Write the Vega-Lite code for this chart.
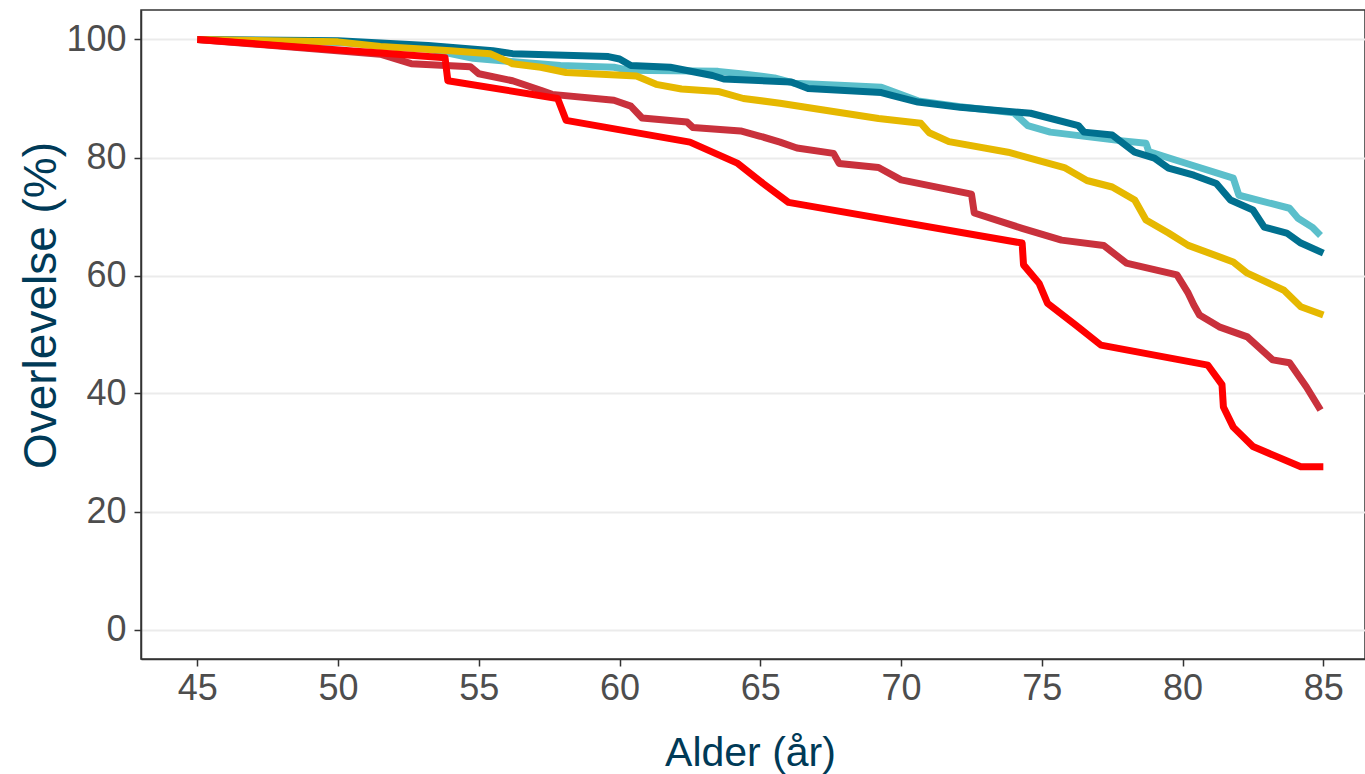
{
  "$schema": "https://vega.github.io/schema/vega-lite/v6.json",
  "width": 1224,
  "height": 649,
  "autosize": {"type": "none"},
  "padding": {"left": 141, "top": 10, "right": 0, "bottom": 115},
  "background": "white",
  "config": {
    "view": {"stroke": "#333333", "strokeWidth": 1.5},
    "font": "Liberation Sans"
  },
  "data": {"values": [
    {"s": "1", "age": 45, "v": 100}, {"s": "1", "age": 50, "v": 99.5}, {"s": "1", "age": 53, "v": 98.6}, {"s": "1", "age": 54.8, "v": 96.8}, {"s": "1", "age": 57.9, "v": 95.6}, {"s": "1", "age": 59.8, "v": 95.3}, {"s": "1", "age": 60.3, "v": 94.8}, {"s": "1", "age": 63.5, "v": 94.6}, {"s": "1", "age": 64.3, "v": 94.2}, {"s": "1", "age": 65.5, "v": 93.5}, {"s": "1", "age": 66.2, "v": 92.6}, {"s": "1", "age": 68, "v": 92.2}, {"s": "1", "age": 69.3, "v": 91.9}, {"s": "1", "age": 70.6, "v": 89.6}, {"s": "1", "age": 72.1, "v": 88.6}, {"s": "1", "age": 74, "v": 87.6}, {"s": "1", "age": 74.5, "v": 85.4}, {"s": "1", "age": 75.3, "v": 84.3}, {"s": "1", "age": 77.7, "v": 82.9}, {"s": "1", "age": 78.7, "v": 82.4}, {"s": "1", "age": 78.8, "v": 81}, {"s": "1", "age": 80, "v": 79.2}, {"s": "1", "age": 81.8, "v": 76.5}, {"s": "1", "age": 82, "v": 73.6}, {"s": "1", "age": 83.8, "v": 71.4}, {"s": "1", "age": 84.1, "v": 69.7}, {"s": "1", "age": 84.6, "v": 68.2}, {"s": "1", "age": 84.9, "v": 66.8},
    {"s": "2", "age": 45, "v": 100}, {"s": "2", "age": 50, "v": 99.8}, {"s": "2", "age": 53.2, "v": 99}, {"s": "2", "age": 55.5, "v": 98.1}, {"s": "2", "age": 56.2, "v": 97.6}, {"s": "2", "age": 59.6, "v": 97.1}, {"s": "2", "age": 60, "v": 96.7}, {"s": "2", "age": 60.4, "v": 95.6}, {"s": "2", "age": 61.8, "v": 95.3}, {"s": "2", "age": 63.3, "v": 93.9}, {"s": "2", "age": 63.7, "v": 93.3}, {"s": "2", "age": 66.1, "v": 92.8}, {"s": "2", "age": 66.7, "v": 91.7}, {"s": "2", "age": 69.3, "v": 91}, {"s": "2", "age": 69.7, "v": 90.5}, {"s": "2", "age": 70.6, "v": 89.4}, {"s": "2", "age": 72.1, "v": 88.5}, {"s": "2", "age": 74.6, "v": 87.5}, {"s": "2", "age": 76.3, "v": 85.4}, {"s": "2", "age": 76.5, "v": 84.3}, {"s": "2", "age": 77.5, "v": 83.8}, {"s": "2", "age": 78.3, "v": 80.9}, {"s": "2", "age": 79, "v": 79.9}, {"s": "2", "age": 79.5, "v": 78.2}, {"s": "2", "age": 80.4, "v": 77}, {"s": "2", "age": 81.2, "v": 75.6}, {"s": "2", "age": 81.7, "v": 72.8}, {"s": "2", "age": 82.5, "v": 71.1}, {"s": "2", "age": 82.9, "v": 68.2}, {"s": "2", "age": 83.7, "v": 67.2}, {"s": "2", "age": 84.2, "v": 65.5}, {"s": "2", "age": 85, "v": 63.8},
    {"s": "3", "age": 45, "v": 100}, {"s": "3", "age": 50, "v": 99.6}, {"s": "3", "age": 51.5, "v": 98.8}, {"s": "3", "age": 54, "v": 98.1}, {"s": "3", "age": 55.4, "v": 97.6}, {"s": "3", "age": 56.2, "v": 95.9}, {"s": "3", "age": 57.2, "v": 95.3}, {"s": "3", "age": 58.1, "v": 94.4}, {"s": "3", "age": 60.6, "v": 93.8}, {"s": "3", "age": 61.3, "v": 92.4}, {"s": "3", "age": 62.2, "v": 91.6}, {"s": "3", "age": 63.5, "v": 91.2}, {"s": "3", "age": 64.4, "v": 90}, {"s": "3", "age": 65.7, "v": 89.2}, {"s": "3", "age": 66.9, "v": 88.3}, {"s": "3", "age": 69.2, "v": 86.6}, {"s": "3", "age": 70.7, "v": 85.8}, {"s": "3", "age": 71, "v": 84.2}, {"s": "3", "age": 71.7, "v": 82.7}, {"s": "3", "age": 73.8, "v": 80.9}, {"s": "3", "age": 75.8, "v": 78.3}, {"s": "3", "age": 76.6, "v": 76.1}, {"s": "3", "age": 77.5, "v": 75}, {"s": "3", "age": 78.3, "v": 72.8}, {"s": "3", "age": 78.7, "v": 69.4}, {"s": "3", "age": 79.5, "v": 67.2}, {"s": "3", "age": 80.2, "v": 65.1}, {"s": "3", "age": 81.8, "v": 62.3}, {"s": "3", "age": 82.3, "v": 60.4}, {"s": "3", "age": 83.6, "v": 57.5}, {"s": "3", "age": 84.2, "v": 54.7}, {"s": "3", "age": 85, "v": 53.3},
    {"s": "4", "age": 45, "v": 100}, {"s": "4", "age": 51.5, "v": 97.5}, {"s": "4", "age": 52.6, "v": 95.9}, {"s": "4", "age": 54.7, "v": 95.4}, {"s": "4", "age": 55, "v": 94.2}, {"s": "4", "age": 56.2, "v": 93}, {"s": "4", "age": 57.2, "v": 91.4}, {"s": "4", "age": 57.6, "v": 90.7}, {"s": "4", "age": 59.8, "v": 89.7}, {"s": "4", "age": 60.4, "v": 88.7}, {"s": "4", "age": 60.8, "v": 86.7}, {"s": "4", "age": 62.4, "v": 86}, {"s": "4", "age": 62.6, "v": 85.1}, {"s": "4", "age": 64.3, "v": 84.5}, {"s": "4", "age": 65, "v": 83.6}, {"s": "4", "age": 65.7, "v": 82.6}, {"s": "4", "age": 66.3, "v": 81.6}, {"s": "4", "age": 67.6, "v": 80.7}, {"s": "4", "age": 67.8, "v": 79}, {"s": "4", "age": 69.2, "v": 78.3}, {"s": "4", "age": 70, "v": 76.2}, {"s": "4", "age": 72.5, "v": 73.8}, {"s": "4", "age": 72.6, "v": 70.6}, {"s": "4", "age": 74.3, "v": 68}, {"s": "4", "age": 75.7, "v": 66}, {"s": "4", "age": 77.2, "v": 65.1}, {"s": "4", "age": 78, "v": 62.1}, {"s": "4", "age": 79.8, "v": 60.1}, {"s": "4", "age": 80.2, "v": 57}, {"s": "4", "age": 80.4, "v": 55}, {"s": "4", "age": 80.6, "v": 53.3}, {"s": "4", "age": 81.3, "v": 51.3}, {"s": "4", "age": 82.3, "v": 49.6}, {"s": "4", "age": 83.2, "v": 45.7}, {"s": "4", "age": 83.8, "v": 45.2}, {"s": "4", "age": 84.4, "v": 41.1}, {"s": "4", "age": 84.9, "v": 37.2},
    {"s": "5", "age": 45, "v": 100}, {"s": "5", "age": 53.8, "v": 96.9}, {"s": "5", "age": 53.9, "v": 93}, {"s": "5", "age": 57.8, "v": 90}, {"s": "5", "age": 58.1, "v": 86.3}, {"s": "5", "age": 62.5, "v": 82.6}, {"s": "5", "age": 64.2, "v": 79}, {"s": "5", "age": 65.1, "v": 75.6}, {"s": "5", "age": 66, "v": 72.4}, {"s": "5", "age": 74.3, "v": 65.5}, {"s": "5", "age": 74.35, "v": 61.8}, {"s": "5", "age": 74.9, "v": 58.7}, {"s": "5", "age": 75.2, "v": 55.3}, {"s": "5", "age": 76.2, "v": 51.6}, {"s": "5", "age": 77.1, "v": 48.2}, {"s": "5", "age": 80.9, "v": 44.8}, {"s": "5", "age": 81.4, "v": 41.5}, {"s": "5", "age": 81.45, "v": 37.7}, {"s": "5", "age": 81.8, "v": 34.3}, {"s": "5", "age": 82.5, "v": 31}, {"s": "5", "age": 84.2, "v": 27.6}, {"s": "5", "age": 85, "v": 27.6}
  ]},
  "mark": {"type": "line", "strokeWidth": 7, "strokeJoin": "round", "clip": true},
  "encoding": {
    "x": {
      "field": "age", "type": "quantitative",
      "scale": {"domain": [43, 86.48], "nice": false, "zero": false},
      "axis": {
        "values": [45, 50, 55, 60, 65, 70, 75, 80, 85],
        "title": "Alder (år)", "grid": false,
        "domainColor": "#333333", "domainWidth": 1.5,
        "tickColor": "#333333", "tickWidth": 1.5, "tickSize": 7,
        "labelFontSize": 36, "labelColor": "#4D4D4D", "labelPadding": 5, "labelFont": "Liberation Sans",
        "titleFontSize": 41, "titleFontWeight": "normal", "titleColor": "#003A57", "titleFont": "Liberation Sans",
        "titleX": 609, "titleY": 106, "titleBaseline": "alphabetic", "titleAlign": "center"
      }
    },
    "y": {
      "field": "v", "type": "quantitative",
      "scale": {"domain": [-5, 105], "nice": false, "zero": false},
      "axis": {
        "values": [0, 20, 40, 60, 80, 100],
        "title": "Overlevelse (%)", "grid": true, "gridColor": "#EBEBEB", "gridWidth": 2,
        "domainColor": "#333333", "domainWidth": 1.5,
        "tickColor": "#333333", "tickWidth": 1.5, "tickSize": 7,
        "labelFontSize": 36, "labelColor": "#4D4D4D", "labelPadding": 8, "labelFont": "Liberation Sans",
        "titleFontSize": 46, "titleFontWeight": "normal", "titleColor": "#003A57", "titleFont": "Liberation Sans",
        "titleX": -86, "titleY": 295, "titleAngle": -90, "titleBaseline": "alphabetic", "titleAlign": "center"
      }
    },
    "color": {
      "field": "s", "type": "nominal", "legend": null,
      "scale": {"domain": ["1", "2", "3", "4", "5"], "range": ["#5BBFCB", "#00708F", "#E6B800", "#C9313C", "#FF0000"]}
    },
    "order": {"field": "age", "type": "quantitative"}
  }
}
